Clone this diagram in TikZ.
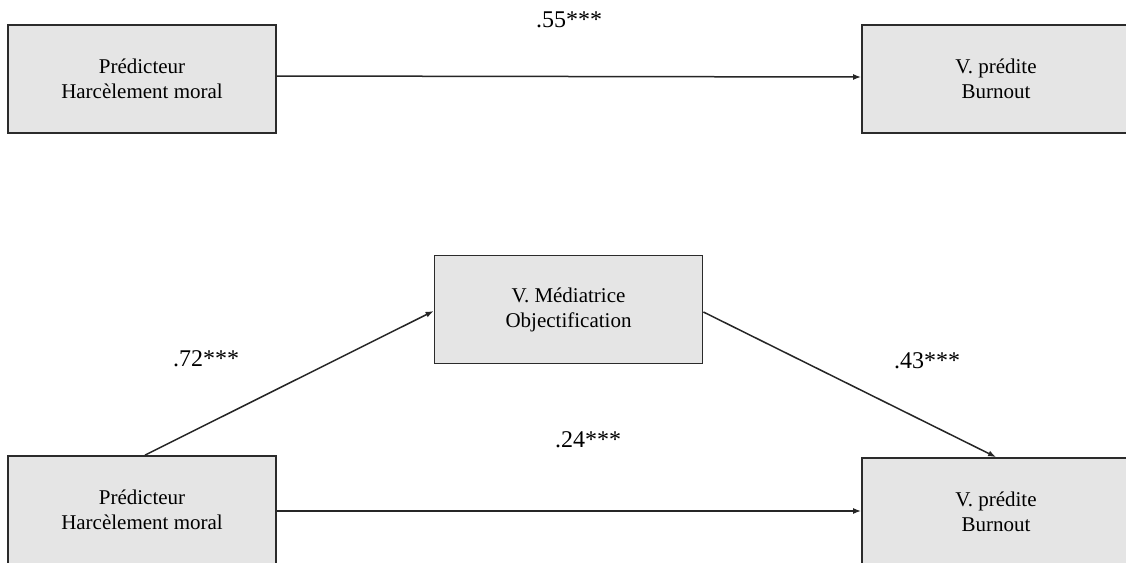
\documentclass[tikz,border=0pt]{standalone}
\usepackage{fontspec}
\setmainfont{Liberation Serif}
\usetikzlibrary{arrows.meta}
\definecolor{boxfill}{HTML}{E5E5E5}
\definecolor{boxline}{HTML}{2B2B2B}
\tikzset{
  varbox/.style={draw=boxline, line width=1.8pt, fill=boxfill, minimum width=268pt, minimum height=108pt, inner sep=0pt, align=center, font=\fontsize{21}{25}\selectfont},
  coef/.style={inner sep=0pt, font=\fontsize{24}{28}\selectfont},
  linkarrow/.style={draw=black!85, line width=1.5pt, -{Latex[length=8pt,width=6pt]}}
}
\begin{document}
\begin{tikzpicture}[x=1pt,y=-1pt]
\clip (0,0) rectangle (1126,562);
\fill[white] (0,0) rectangle (1126,562);
\node[varbox] (tl) at (142,79) {Prédicteur\\Harcèlement moral};
\node[varbox] (tr) at (996,79) {V. prédite\\Burnout};
\node[varbox] (mid) at (568.5,309.5) {V. Médiatrice\\Objectification};
\node[varbox] (bl) at (142,510) {Prédicteur\\Harcèlement moral};
\node[varbox] (br) at (996,512) {V. prédite\\Burnout};
\node[coef] (c55) at (569,20) {.55***};
\node[coef] (c72) at (206,359) {.72***};
\node[coef] (c43) at (927,361) {.43***};
\node[coef] (c24) at (588,440) {.24***};
\draw[linkarrow] ([yshift=3pt]tl.east) -- ([yshift=2pt]tr.west);
\draw[linkarrow] ([xshift=3pt]bl.north) -- ([yshift=-1.5pt]mid.west);
\draw[linkarrow] ([yshift=-2.5pt]mid.east) -- (br.north);
\draw[linkarrow] ([yshift=-1pt]bl.east) -- ([yshift=1pt]br.west);
\end{tikzpicture}
\end{document}
